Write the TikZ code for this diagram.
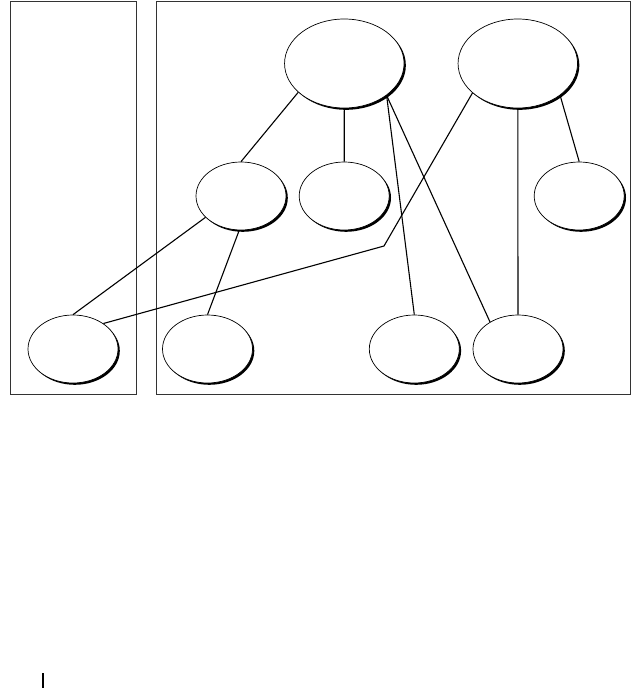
\documentclass[tikz,border=0pt]{standalone}
\usetikzlibrary{shapes.geometric,shadows}
\begin{document}
\begin{tikzpicture}[x=1pt,y=-1pt,
  oval/.style={ellipse,draw=black,line width=0.7pt,fill=white,inner sep=0pt,
    drop shadow={shadow xshift=1.8pt,shadow yshift=-1.8pt,fill=black,opacity=1}},
  bigoval/.style={oval,minimum width=119.5pt,minimum height=89pt},
  smalloval/.style={oval,minimum width=90pt,minimum height=68pt},
  link/.style={line width=1.1pt,black},
  frame/.style={draw=black!80,line width=1.3pt}]
\useasboundingbox (0,0) rectangle (641,688);
\node[frame,rectangle,minimum width=126.5pt,minimum height=393pt,inner sep=0pt] (L) at (73.5,198) {};
\node[frame,rectangle,minimum width=474pt,minimum height=393pt,inner sep=0pt] (R) at (393.5,198) {};
\node[bigoval] (A) at (344.3,63.5) {};
\node[bigoval] (B) at (517.8,63.5) {};
\node[smalloval] (C) at (241,196) {};
\node[smalloval] (D) at (344.2,196) {};
\node[smalloval] (E) at (579.2,196) {};
\node[smalloval] (F) at (73,349) {};
\node[smalloval] (G) at (207.5,349) {};
\node[smalloval] (H) at (414.3,349) {};
\node[smalloval] (I) at (518,349) {};
\coordinate (bend) at (384,246);
\draw[link] (A.212) -- (C.north);
\draw[link] (A.south) -- (D.north);
\draw[link] (A.-37.3) -- (H.north);
\draw[link] (A.-37.3) -- (I.136);
\draw[link] (B.213.8) -- (bend) -- (F.40.6);
\draw[link] (B.south) -- (I.north);
\draw[link] (B.-37) -- (E.north);
\draw[link] (C.211) -- (F.north);
\draw[link] (C.-93) -- (G.north);
\coordinate (t1) at (43,673);
\coordinate (t2) at (43,688);
\draw[line width=1.2pt] (t1) -- (t2);
\end{tikzpicture}
\end{document}
